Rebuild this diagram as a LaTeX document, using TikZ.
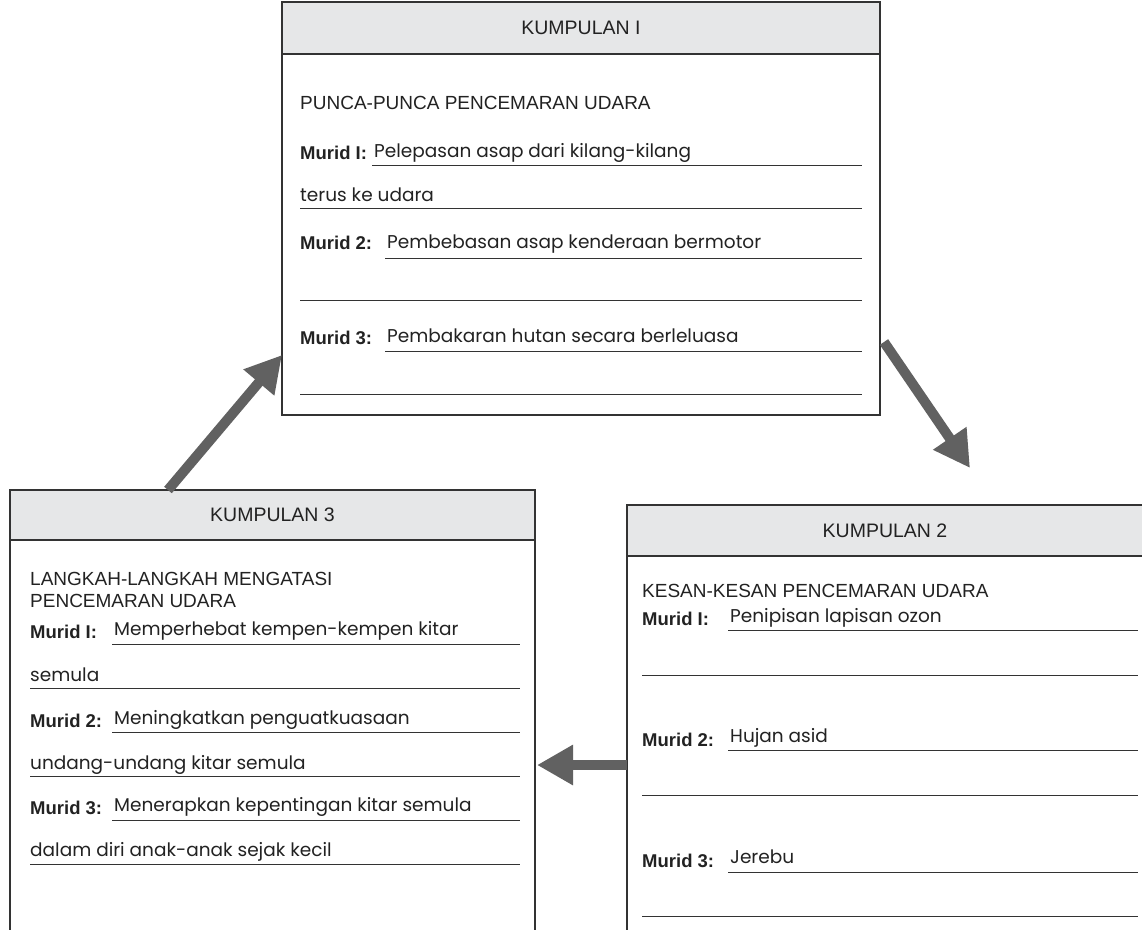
\documentclass[tikz,border=0pt]{standalone}
\usepackage{fontspec}
\setmainfont{Liberation Sans}
\newfontfamily\ansfont{Poppins}
\usetikzlibrary{arrows.meta,calc}
\definecolor{hdr}{HTML}{E6E7E8}
\definecolor{arr}{HTML}{616161}
\definecolor{bdr}{HTML}{333333}
\definecolor{txt}{HTML}{222222}
\begin{document}
\begin{tikzpicture}[x=1pt,y=-1pt,
  boxbody/.style={draw=bdr,line width=1.2pt,fill=white,inner sep=0,outer sep=0,anchor=north west},
  hdrbox/.style={draw=bdr,line width=1.2pt,fill=hdr,inner sep=0,outer sep=0,anchor=north west,text=txt,font=\fontsize{19.5}{22}\selectfont},
  titletext/.style={font=\fontsize{19}{22}\selectfont,text=txt,anchor=base west,inner sep=0},
  lbl/.style={font=\bfseries\fontsize{18.5}{22}\selectfont,text=txt,anchor=base west,inner sep=0},
  ans/.style={font=\ansfont\fontsize{18.5}{22}\selectfont,text=txt,anchor=base west,inner sep=0},
  wline/.style={draw=bdr,line width=1pt},
  bigarrow/.style={draw=arr,line width=10pt,-{Triangle[length=36pt,width=38pt]}}]
\useasboundingbox (0,0) rectangle (1142,929);
% ---------- KUMPULAN I ----------
\node[boxbody,minimum width=598pt,minimum height=413pt] (b1) at (282,2) {};
\node[hdrbox,minimum width=598pt,minimum height=52pt] (h1) at (282,2) {KUMPULAN I};
\node[titletext] (t1) at (300,109) {PUNCA-PUNCA PENCEMARAN UDARA};
\node[lbl] (l11) at (300,159) {Murid I:};
\node[ans] (a11) at (374,157) {Pelepasan asap dari kilang-kilang};
\draw[wline] (372,165) -- (862,165);
\node[ans] (a11b) at (300,201) {terus ke udara};
\draw[wline] (300,208) -- (862,208);
\node[lbl] (l12) at (300,249) {Murid 2:};
\node[ans] (a12) at (387,248) {Pembebasan asap kenderaan bermotor};
\draw[wline] (385,258) -- (862,258);
\draw[wline] (300,300) -- (862,300);
\node[lbl] (l13) at (300,344) {Murid 3:};
\node[ans] (a13) at (387,342) {Pembakaran hutan secara berleluasa};
\draw[wline] (385,351) -- (862,351);
\draw[wline] (300,394) -- (862,394);
% ---------- KUMPULAN 3 ----------
\node[boxbody,minimum width=525pt,minimum height=460pt] (b3) at (10,490) {};
\node[hdrbox,minimum width=525pt,minimum height=50pt] (h3) at (10,490) {KUMPULAN 3};
\node[titletext] (t3a) at (30,585) {LANGKAH-LANGKAH MENGATASI};
\node[titletext] (t3b) at (30,607) {PENCEMARAN UDARA};
\node[lbl] (l31) at (30,638) {Murid I:};
\node[ans] (a31) at (114,635) {Memperhebat kempen-kempen kitar};
\draw[wline] (112,644) -- (520,644);
\node[ans] (a31b) at (30,681) {semula};
\draw[wline] (30,688) -- (520,688);
\node[lbl] (l32) at (30,727) {Murid 2:};
\node[ans] (a32) at (114,724) {Meningkatkan penguatkuasaan};
\draw[wline] (112,732) -- (520,732);
\node[ans] (a32b) at (30,769) {undang-undang kitar semula};
\draw[wline] (30,776) -- (520,776);
\node[lbl] (l33) at (30,814) {Murid 3:};
\node[ans] (a33) at (114,811) {Menerapkan kepentingan kitar semula};
\draw[wline] (112,820) -- (520,820);
\node[ans] (a33b) at (30,856) {dalam diri anak-anak sejak kecil};
\draw[wline] (30,864) -- (520,864);
% ---------- KUMPULAN 2 ----------
\node[boxbody,minimum width=540pt,minimum height=450pt] (b2) at (627,505) {};
\node[hdrbox,minimum width=540pt,minimum height=51pt] (h2x) at (627,505) {};
\node[font=\fontsize{19.5}{22}\selectfont,text=txt] (h2) at (885,531) {KUMPULAN 2};
\node[titletext] (t2) at (642,597) {KESAN-KESAN PENCEMARAN UDARA};
\node[lbl] (l21) at (642,625) {Murid I:};
\node[ans] (a21) at (730,622) {Penipisan lapisan ozon};
\draw[wline] (728,630) -- (1138,630);
\draw[wline] (642,675) -- (1138,675);
\node[lbl] (l22) at (642,746) {Murid 2:};
\node[ans] (a22) at (730,742) {Hujan asid};
\draw[wline] (728,750) -- (1138,750);
\draw[wline] (642,795) -- (1138,795);
\node[lbl] (l23) at (642,867) {Murid 3:};
\node[ans] (a23) at (730,863) {Jerebu};
\draw[wline] (728,872) -- (1138,872);
\draw[wline] (642,916) -- (1138,916);
% ---------- arrows ----------
\coordinate (s31) at ($(b3.north west)+(158,0)$);
\coordinate (e31) at ($(b1.south west)+(0,-60)$);
\draw[bigarrow] (s31) -- (e31);
\coordinate (s12) at ($(b1.south east)+(4,-73)$);
\coordinate (e12) at ($(b2.north west)+(343,-37)$);
\draw[bigarrow] (s12) -- (e12);
\coordinate (s23) at ($(b2.north west)+(0,260)$);
\coordinate (e23) at ($(b3.north east)+(2,275)$);
\draw[bigarrow] (s23) -- (e23);
\end{tikzpicture}
\end{document}
